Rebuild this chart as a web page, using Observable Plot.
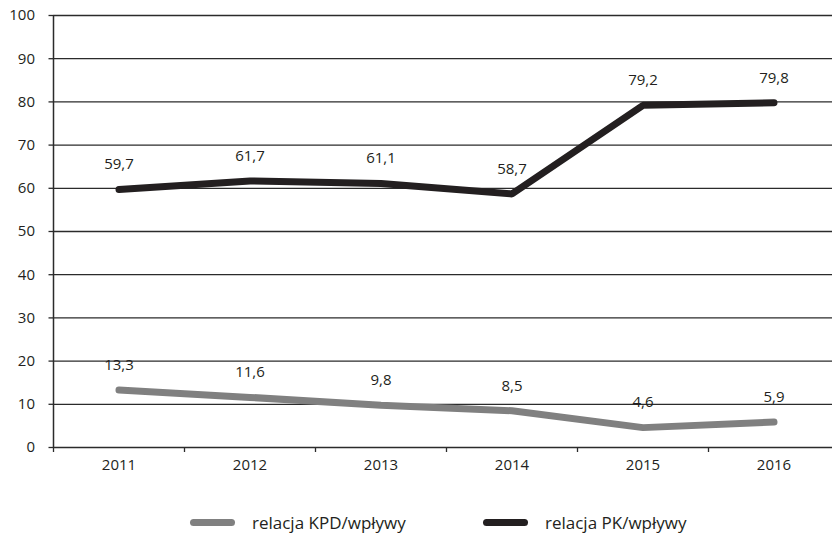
<!DOCTYPE html>
<html>
<head>
<meta charset="utf-8">
<script src="https://cdn.jsdelivr.net/npm/d3@7"></script>
<script src="https://cdn.jsdelivr.net/npm/@observablehq/plot@0.6"></script>
<style>
  html, body { margin: 0; padding: 0; background: #fff; overflow: hidden; }
  #chart { width: 832px; font-family: "Open Sans", sans-serif; }
  .legend { position: relative; height: 22px; margin-top: 21px; font-size: 17px; color: #231f20; }
  .item { display: flex; align-items: center; position: absolute; top: 0; height: 22px; }
  .swatch { display: inline-block; width: 45px; height: 7px; border-radius: 4px; margin-right: 17px; }
</style>
</head>
<body>
<div id="chart"></div>
<script>
const years = [2011, 2012, 2013, 2014, 2015, 2016];
const kpd = [13.3, 11.6, 9.8, 8.5, 4.6, 5.9];
const pk = [59.7, 61.7, 61.1, 58.7, 79.2, 79.8];
const seriesNames = ["relacja KPD/wpływy", "relacja PK/wpływy"];
const seriesColors = ["#808080", "#231f20"];

const rows = [];
years.forEach((y, i) => {
  rows.push({ i, year: y, value: kpd[i], series: seriesNames[0] });
  rows.push({ i, year: y, value: pk[i], series: seriesNames[1] });
});
const fmt = v => v.toFixed(1).replace(".", ",");
const pos = i => i + 0.5;

const chart = Plot.plot({
  width: 832,
  height: 490,
  marginLeft: 53,
  marginRight: 0,
  marginTop: 15,
  marginBottom: 43,
  style: { fontFamily: "Open Sans, sans-serif", fontSize: "15px", color: "#231f20", overflow: "hidden" },
  x: { domain: [0, years.length], range: [53, 839] },
  y: { domain: [0, 100], range: [447, 15] },
  color: { domain: seriesNames, range: seriesColors },
  marks: [
    Plot.gridY(d3.range(0, 101, 10), { stroke: "#2b2b2b", strokeOpacity: 1, strokeWidth: 1.3 }),
    Plot.axisY(d3.range(0, 101, 10), { tickSize: 4.5, tickPadding: 14, stroke: "#2b2b2b", strokeWidth: 1.3, label: null }),
    Plot.ruleX([0], { stroke: "#2b2b2b", strokeWidth: 1.5 }),
    Plot.axisX(d3.range(0, years.length + 1), { tickSize: 5, stroke: "#2b2b2b", strokeWidth: 1.3, tickFormat: () => "", label: null }),
    Plot.axisX(years.map((_, i) => pos(i)), { tickSize: 0, tickPadding: 12, tickFormat: t => String(years[Math.floor(t)]), label: null }),
    Plot.line(rows, { x: d => pos(d.i), y: "value", z: "series", stroke: "series", strokeWidth: 7, strokeLinecap: "round", strokeLinejoin: "miter" }),
    Plot.text(rows, { x: d => pos(d.i), y: "value", text: d => fmt(d.value), dy: -25, fill: "#231f20" })
  ]
});
document.getElementById("chart").appendChild(chart);

const legend = document.createElement("div");
legend.className = "legend";
const lefts = [190, 483];
seriesNames.forEach((name, k) => {
  const item = document.createElement("div");
  item.className = "item";
  item.style.left = lefts[k] + "px";
  const sw = document.createElement("span");
  sw.className = "swatch";
  sw.style.background = seriesColors[k];
  item.appendChild(sw);
  item.appendChild(document.createTextNode(name));
  legend.appendChild(item);
});
document.getElementById("chart").appendChild(legend);
</script>
</body>
</html>
